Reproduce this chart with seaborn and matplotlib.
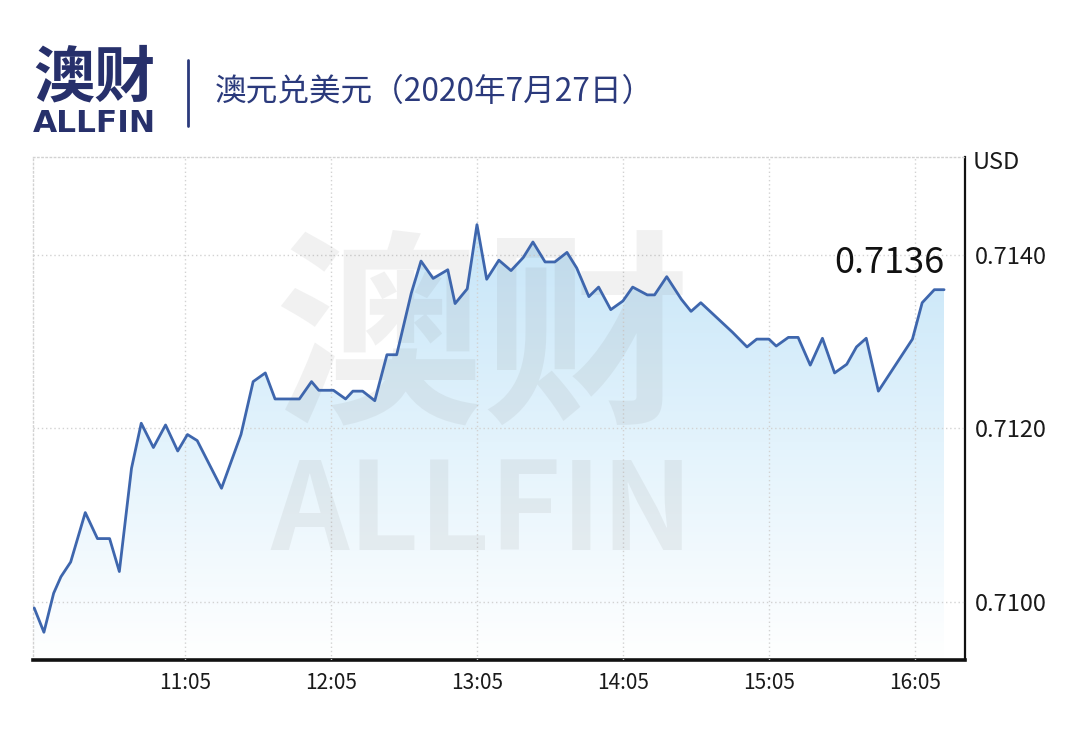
"""AUD/USD intraday chart for 2020-07-27, ALLFIN style."""

import numpy as np
import pandas as pd
import seaborn as sns
import matplotlib.pyplot as plt
from matplotlib.colors import LinearSegmentedColormap
from matplotlib.patches import Polygon
from matplotlib.lines import Line2D

# -----------------------------------------------------------------------------
# Data.

times = [
    "10:03", "10:07", "10:11", "10:14", "10:18", "10:24", "10:29", "10:34",
    "10:38", "10:43", "10:47", "10:52", "10:57", "11:02", "11:06", "11:10",
    "11:20", "11:28", "11:33", "11:38", "11:42", "11:52", "11:57", "12:00",
    "12:06", "12:11", "12:14", "12:18", "12:23", "12:28", "12:32", "12:38",
    "12:42", "12:47", "12:53", "12:56", "13:01", "13:05", "13:09", "13:14",
    "13:19", "13:24", "13:28", "13:33", "13:37", "13:42", "13:46", "13:51",
    "13:55", "14:00", "14:05", "14:09", "14:15", "14:18", "14:23", "14:29",
    "14:33", "14:37", "14:50", "14:56", "15:00", "15:05", "15:08", "15:13",
    "15:17", "15:22", "15:27", "15:32", "15:37", "15:41", "15:45", "15:50",
    "16:04", "16:08", "16:13", "16:17",
]
prices = [
    0.70993, 0.70965, 0.71010, 0.71029, 0.71046, 0.71103, 0.71073, 0.71073,
    0.71035, 0.71154, 0.71206, 0.71178, 0.71204, 0.71174, 0.71193, 0.71186,
    0.71131, 0.71193, 0.71254, 0.71264, 0.71234, 0.71234, 0.71254, 0.71244,
    0.71244, 0.71234, 0.71243, 0.71243, 0.71232, 0.71285, 0.71285, 0.71356,
    0.71393, 0.71373, 0.71383, 0.71344, 0.71361, 0.71435, 0.71372, 0.71394,
    0.71382, 0.71397, 0.71415, 0.71392, 0.71392, 0.71403, 0.71385, 0.71352,
    0.71363, 0.71337, 0.71347, 0.71363, 0.71354, 0.71354, 0.71375, 0.71349,
    0.71335, 0.71345, 0.71311, 0.71294, 0.71303, 0.71303, 0.71295, 0.71305,
    0.71305, 0.71273, 0.71304, 0.71264, 0.71274, 0.71294, 0.71304, 0.71243,
    0.71303, 0.71345, 0.71360, 0.71360,
]
tick_times = ["11:05", "12:05", "13:05", "14:05", "15:05", "16:05"]
y_ticks = [0.7100, 0.7120, 0.7140]
last_label = "0.7136"
title = "澳元兑美元（2020年7月27日）"
unit = "USD"

# -----------------------------------------------------------------------------

def to_minutes(t):
    '''Minutes after 10:00 for an "HH:MM" string.'''
    h, m = t.split(':')
    return int(h) * 60 + int(m) - 600


df = pd.DataFrame({'minute': [to_minutes(t) for t in times], 'price': prices})

sns.set_style('white')
plt.rcParams['font.family'] = ['Noto Sans CJK SC', 'DejaVu Sans']

navy = '#2b3a7c'
line_blue = '#3e66ad'
grid_grey = '#d2d2d2'

fig = plt.figure(figsize=(10.67, 7.33), dpi=100)
ax = fig.add_axes([0.0309, 0.0996, 0.8735, 0.6862])

x_lo, x_hi = 2.5, 385.6
y_lo, y_hi = 0.70933, 0.71513

# Gradient fill under the line, clipped to the area polygon.
cmap = LinearSegmentedColormap.from_list('fill', ['#ffffff', '#e3f3fc', '#c6e5f8'])
grad = np.linspace(0, 1, 256).reshape(-1, 1)
im = ax.imshow(grad, cmap=cmap, origin='lower', aspect='auto', zorder=1,
               extent=[df.minute.min(), df.minute.max(), y_lo, df.price.max()])
verts = ([(df.minute.iloc[0], y_lo)] + list(zip(df.minute, df.price))
         + [(df.minute.iloc[-1], y_lo)])
area = Polygon(verts, closed=True, facecolor='none', edgecolor='none')
ax.add_patch(area)
im.set_clip_path(area)

# Faint watermark.
ax.text(0.482, 0.625, '澳财', transform=ax.transAxes, ha='center', va='center',
        fontsize=150, fontweight='bold', color='#7a7a7a', alpha=0.1, zorder=3)
ax.text(0.482, 0.29, 'ALLFIN', transform=ax.transAxes, ha='center', va='center',
        fontsize=88, fontweight='bold', color='#7a7a7a', alpha=0.1, zorder=3)

sns.lineplot(data=df, x='minute', y='price', color=line_blue, linewidth=2.0,
             ax=ax, zorder=4)

ax.annotate(last_label, xy=(df.minute.iloc[-1], df.price.iloc[-1]),
            xytext=(0, 6), textcoords='offset points', ha='right', va='bottom',
            fontsize=26, color='#111111', zorder=5)

# Axes, ticks and grid.
ax.set_xlim(x_lo, x_hi)
ax.set_ylim(y_lo, y_hi)
ax.set_xticks([to_minutes(t) for t in tick_times])
ax.set_xticklabels(tick_times)
ax.set_yticks(y_ticks)
ax.set_yticklabels([f'{v:.4f}' for v in y_ticks])
ax.yaxis.tick_right()
ax.tick_params(axis='x', length=0, pad=9, labelsize=15, labelcolor='#1a1a1a')
ax.tick_params(axis='y', length=0, pad=7, labelsize=17, labelcolor='#1a1a1a')
ax.set_xlabel('')
ax.set_ylabel('')
ax.set_axisbelow(False)
ax.grid(True, linestyle=(0, (1, 2)), color=grid_grey, linewidth=1.0)

for side in ('top', 'left'):
    ax.spines[side].set_linestyle((0, (1, 2)))
    ax.spines[side].set_color(grid_grey)
    ax.spines[side].set_linewidth(1.0)
ax.spines['right'].set_color('#111111')
ax.spines['right'].set_linewidth(1.6)
ax.spines['bottom'].set_color('#111111')
ax.spines['bottom'].set_linewidth(2.6)

ax.text(1.008, 0.99, unit, transform=ax.transAxes, ha='left', va='center',
        fontsize=17, color='#1a1a1a')

# Header: logo, separator and title.
fig.text(0.031, 0.892, '澳财', ha='left', va='center', fontsize=44,
         fontweight='bold', color='#27306b')
fig.text(0.031, 0.831, 'ALLFIN', ha='left', va='center', fontsize=22.5,
         fontweight='bold', color='#27306b', family='DejaVu Sans')
fig.add_artist(Line2D([188 / 1067, 188 / 1067], [1 - 60 / 733, 1 - 126 / 733],
                      color=navy, linewidth=2.0))
fig.text(0.2015, 0.875, title, ha='left', va='center', fontsize=22.8, color=navy)

fig.savefig('out.png', dpi=100, facecolor='white')
